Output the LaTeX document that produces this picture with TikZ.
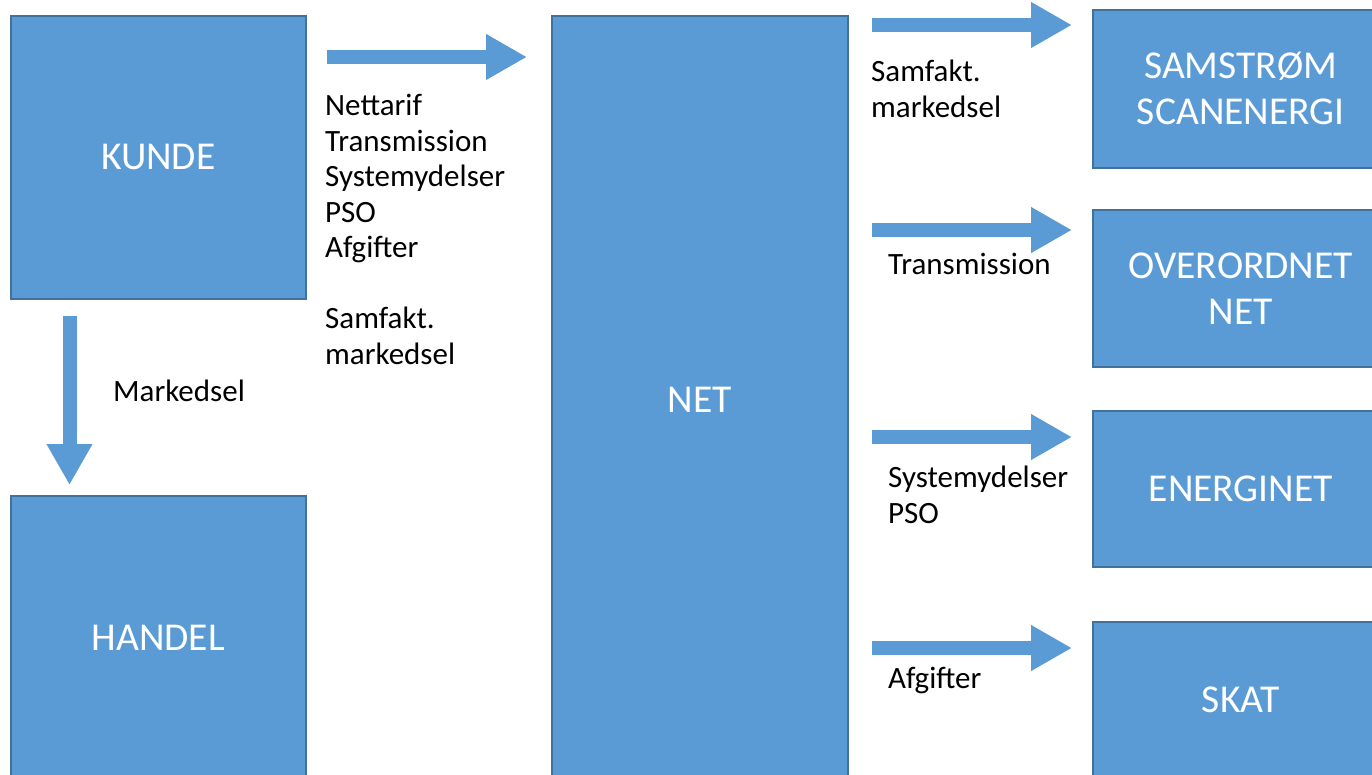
\documentclass[tikz,border=0pt]{standalone}
\usepackage{fontspec}
\setmainfont{Carlito}
\usetikzlibrary{arrows.meta, positioning}
\definecolor{boxblue}{HTML}{5B9BD5}
\definecolor{boxline}{HTML}{41719C}
\tikzset{
x=1pt, y=-1pt, % one unit is one pixel, y runs down
box/.style={draw=boxline, line width=1.5pt, fill=boxblue, text=white, font=\fontsize{39.5}{46}\selectfont, align=center, anchor=north west, inner sep=0pt}, % the blue boxes
flow/.style={draw=boxblue, line width=14pt, -{Triangle[length=41pt, width=43pt]}}, % the wide arrows
lbl/.style={anchor=base west, align=left, inner sep=0pt, font=\fontsize{31}{35.5}\selectfont}, % black texts, placed at the last line
}
\begin{document}
\begin{tikzpicture}
\useasboundingbox (0,0) rectangle (1372,774);
% left column
\node[box, minimum width=295pt, minimum height=283pt] (kunde) at (10,15) {KUNDE};
\node[box, minimum width=295pt, minimum height=284pt] (handel) at (10,495) {HANDEL};
% middle
\node[box, minimum width=296pt, minimum height=768pt] (net) at (551,15) {NET};
% right column
\node[box, minimum width=296pt, minimum height=158pt] (samstrom) at (1092,9) {SAMSTRØM\\SCANENERGI};
\node[box, minimum width=296pt, minimum height=157pt] (overordnet) at (1092,209) {OVERORDNET\\NET};
\node[box, minimum width=296pt, minimum height=156pt] (energinet) at (1092,410) {ENERGINET};
\node[box, minimum width=296pt, minimum height=156pt] (skat) at (1092,621) {SKAT};
% arrows
\draw[flow] ([shift={(20,42)}]kunde.north east) -- ([shift={(-24,42)}]net.north west);
\draw[flow] ([shift={(59.5,16)}]kunde.south west) -- ([shift={(59.5,-10)}]handel.north west);
\draw[flow] ([shift={(23,10)}]net.north east) -- ([shift={(-20,16)}]samstrom.north west);
\draw[flow] ([shift={(23,215)}]net.north east) -- ([shift={(-20,21)}]overordnet.north west);
\draw[flow] ([shift={(23,422)}]net.north east) -- ([shift={(-20,27)}]energinet.north west);
\draw[flow] ([shift={(23,633)}]net.north east) -- ([shift={(-20,27)}]skat.north west);
% texts
\node[lbl] (betaling) at (325,364) {Nettarif\\Transmission\\Systemydelser\\PSO\\Afgifter\\[35.5pt]Samfakt.\\markedsel};
\node[lbl] (markedsel) at (113,401) {Markedsel};
\node[lbl] (samfakt) at (871,117) {Samfakt.\\markedsel};
\node[lbl] (transmission) at (888,274) {Transmission};
\node[lbl] (systemydelser) at (888,523) {Systemydelser\\PSO};
\node[lbl] (afgifter) at (888,688) {Afgifter};
\end{tikzpicture}
\end{document}
